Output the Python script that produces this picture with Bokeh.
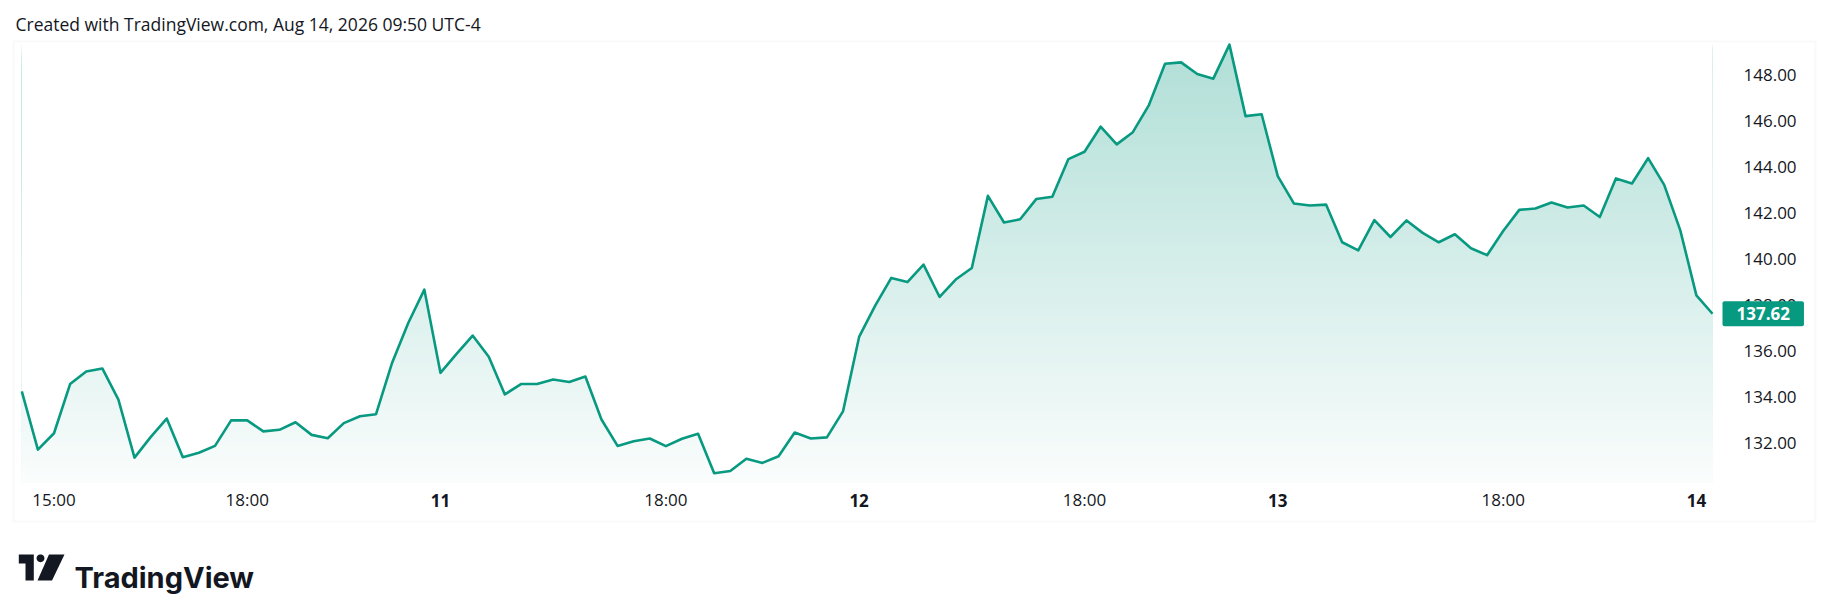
import numpy as np
from bokeh.plotting import figure
from bokeh.models import (Range1d, FixedTicker, NumeralTickFormatter, Label,
                          BoxAnnotation, PolyAnnotation, LinearAxis)
from bokeh.embed import file_html
from bokeh.resources import INLINE

# ---------------- data ----------------
prices = [
    134.24, 131.71, 132.42, 134.56, 135.11, 135.24, 133.88, 131.36, 132.25, 133.06,
    131.38, 131.57, 131.87, 132.98, 132.98, 132.50, 132.57, 132.90, 132.35, 132.20,
    132.86, 133.16, 133.25, 135.49, 137.22, 138.67, 135.05, 135.87, 136.67, 135.75,
    134.11, 134.56, 134.56, 134.76, 134.65, 134.89, 133.02, 131.87, 132.07, 132.19,
    131.86, 132.18, 132.40, 130.68, 130.78, 131.31, 131.13, 131.42, 132.45, 132.19,
    132.24, 133.37, 136.61, 137.97, 139.18, 139.00, 139.76, 138.35, 139.11, 139.61,
    142.75, 141.59, 141.73, 142.61, 142.71, 144.35, 144.67, 145.76, 144.99, 145.52,
    146.70, 148.50, 148.56, 148.05, 147.85, 149.33, 146.22, 146.30, 143.61, 142.42,
    142.33, 142.37, 140.73, 140.38, 141.69, 140.96, 141.68, 141.14, 140.73, 141.08,
    140.47, 140.17, 141.22, 142.14, 142.20, 142.46, 142.24, 142.33, 141.83, 143.51,
    143.29, 144.39, 143.23, 141.25, 138.42, 137.62,
]
time_tick_idx = [2, 14, 26, 40, 52, 66, 78, 92, 104]
time_tick_labels = ["15:00", "18:00", "11", "18:00", "12", "18:00", "13", "18:00", "14"]
price_ticks = [132, 134, 136, 138, 140, 142, 144, 146, 148]
title_text = "Created with TradingView.com, Aug 14, 2026 09:50 UTC-4"
brand_text = "TradingView"

# ---------------- style / layout ----------------
LINE = "#089981"
TEXT = "#131722"
FONT = "Open Sans"
BORDER = "#ececec"
W, H = 1830, 611

N = len(prices)
# pixel layout of the pane (page pixels)
first_px, last_px = 21.3, 1712.0          # first / last bar centre
y_anchor_val, y_anchor_px, px_per_unit = 132.0, 442.4, 22.98
x_step = (last_px - first_px) / (N - 1)
x_start = -first_px / x_step
x_end = x_start + W / x_step
y_end = y_anchor_val + y_anchor_px / px_per_unit
y_start = y_end - H / px_per_unit


def xd(px):
    return x_start + px / x_step


def yd(py):
    return y_end - py / px_per_unit


pane_top, pane_bottom = yd(42), yd(482)

x = np.arange(N)
y = np.array(prices, dtype=float)

p = figure(width=W, height=H,
           x_range=Range1d(x_start, x_end), y_range=Range1d(y_start, y_end),
           y_axis_location="right",
           output_backend="svg", toolbar_location=None,
           min_border_left=0, min_border_right=0,
           min_border_top=0, min_border_bottom=0)
p.outline_line_color = None
p.background_fill_color = "white"
p.border_fill_color = "white"
p.grid.visible = False

# ---------------- chart frame ----------------
p.add_layout(BoxAnnotation(left=13, right=1815, top=H - 41, bottom=H - 521,
                           left_units="screen", right_units="screen",
                           top_units="screen", bottom_units="screen",
                           fill_color=None, line_color=BORDER, line_width=2,
                           level="underlay"))

# ---------------- gradient area under the line ----------------
nb = 120
edges = np.linspace(pane_bottom, y.max(), nb + 1)
mids = (edges[:-1] + edges[1:]) / 2
frac = (mids - pane_bottom) / (y.max() - pane_bottom)
alpha = 0.02 + 0.30 * frac
base = (8, 153, 129)
cols = ["#%02x%02x%02x" % tuple(int(round(255 - a * (255 - c))) for c in base) for a in alpha]
order = np.argsort(-edges[1:])
p.quad(left=float(x[0]), right=float(x[-1]), bottom=pane_bottom,
       top=list(edges[1:][order]), fill_color=[cols[i] for i in order],
       line_color=None)
# white mask above the curve
p.varea(x=x, y1=y, y2=pane_top, fill_color="white")
# the price line
p.line(x, y, line_color=LINE, line_width=2.6, line_join="round")

# ---------------- axes (fixed inside the canvas) ----------------
hour_ticks = [i for i, l in zip(time_tick_idx, time_tick_labels) if ":" in l]
day_ticks = [i for i, l in zip(time_tick_idx, time_tick_labels) if ":" not in l]
tick_map = {i: l for i, l in zip(time_tick_idx, time_tick_labels)}

hour_axis = p.xaxis[0]
hour_axis.fixed_location = pane_bottom
hour_axis.ticker = FixedTicker(ticks=hour_ticks)
hour_axis.major_label_overrides = {i: tick_map[i] for i in hour_ticks}
day_axis = LinearAxis(fixed_location=pane_bottom, ticker=FixedTicker(ticks=day_ticks),
                      major_label_overrides={i: tick_map[i] for i in day_ticks})
p.add_layout(day_axis, "below")

p.yaxis.fixed_location = xd(1720)
p.yaxis.ticker = FixedTicker(ticks=price_ticks)
p.yaxis.formatter = NumeralTickFormatter(format="0.00")
p.yaxis.major_label_standoff = 23
for ax in p.axis:
    ax.axis_line_color = None
    ax.major_tick_line_color = None
    ax.minor_tick_line_color = None
    ax.major_tick_out = 0
    ax.major_tick_in = 0
    ax.major_label_text_font = FONT
    ax.major_label_text_font_size = "17px"
    ax.major_label_text_color = TEXT
hour_axis.major_label_standoff = 5
day_axis.major_label_standoff = 11
day_axis.major_label_text_font_style = "bold"

# ---------------- last price badge ----------------
p.add_layout(Label(x=1722, x_units="screen", y=prices[-1], y_units="data",
                   text=f"{prices[-1]:.2f}", text_color="white", text_font=FONT,
                   text_font_style="bold", text_font_size="17px",
                   text_baseline="middle", text_align="left",
                   background_fill_color=LINE,
                   padding=dict(left=14, right=14, top=6, bottom=6),
                   border_radius=2))

# ---------------- header / footer text ----------------
p.add_layout(Label(x=15, y=H - 23, x_units="screen", y_units="screen",
                   text=title_text, text_color=TEXT, text_font=FONT,
                   text_font_size="17.5px", text_baseline="alphabetic"))
p.add_layout(Label(x=74, y=H - 576.5, x_units="screen", y_units="screen",
                   text=brand_text, text_color=TEXT, text_font="Inter",
                   text_font_style="bold", text_font_size="29px",
                   text_baseline="alphabetic"))

# TradingView logo mark
p.add_layout(PolyAnnotation(xs=[18.3, 33.3, 33.3, 25.0, 25.0, 18.3],
                            ys=[H - 554, H - 554, H - 580, H - 580, H - 563, H - 563],
                            xs_units="screen", ys_units="screen",
                            fill_color=TEXT, fill_alpha=1, line_color=None))
ang = np.linspace(0, 2 * np.pi, 28, endpoint=False)
p.add_layout(PolyAnnotation(xs=list(40.0 + 3.9 * np.cos(ang)),
                            ys=list(H - 557.8 + 3.9 * np.sin(ang)),
                            xs_units="screen", ys_units="screen",
                            fill_color=TEXT, fill_alpha=1, line_color=None))
p.add_layout(PolyAnnotation(xs=[48.5, 64.0, 51.5, 37.0],
                            ys=[H - 554, H - 554, H - 580, H - 580],
                            xs_units="screen", ys_units="screen",
                            fill_color=TEXT, fill_alpha=1, line_color=None))

open("out.html", "w").write(file_html(p, INLINE))
